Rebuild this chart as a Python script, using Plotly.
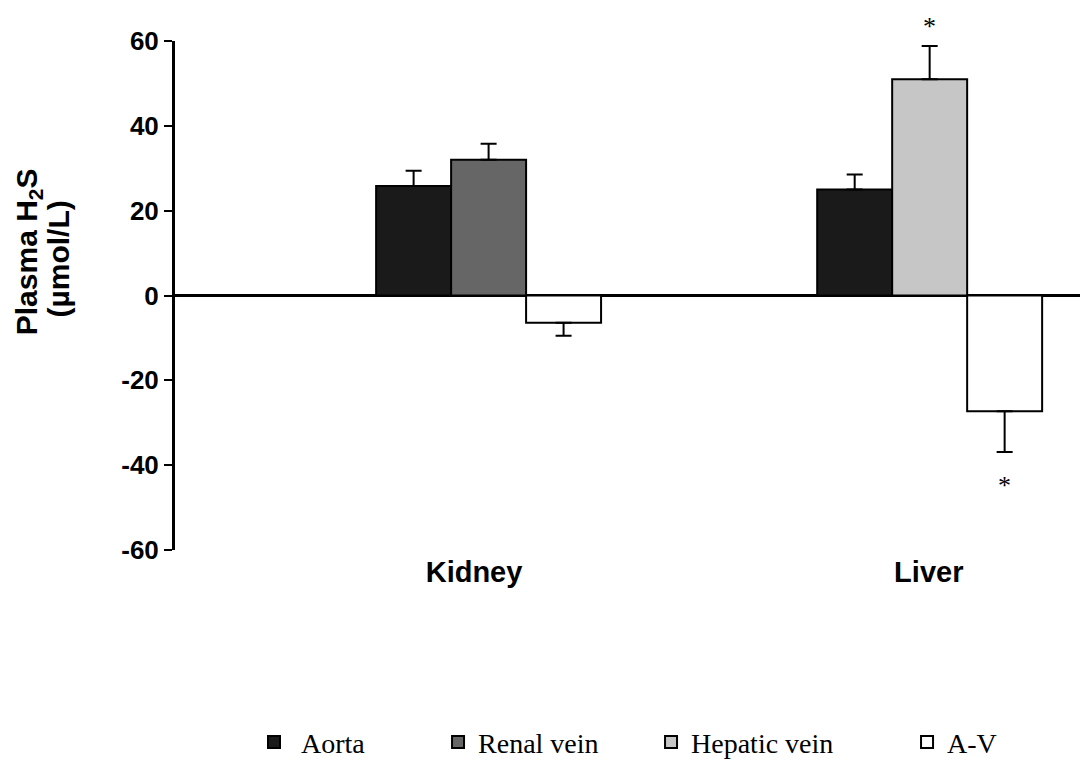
import plotly.graph_objects as go

# ---- data ----
groups = ["Kidney", "Liver"]
group_pos = [0, 1]

aorta = [25.8, 25.0]
aorta_err = [3.6, 3.5]

renal_vein = [32.0]        # Kidney only
renal_vein_err = [3.8]

hepatic_vein = [51.0]      # Liver only
hepatic_vein_err = [7.8]

av = [-6.4, -27.3]
av_err = [3.1, 9.6]

y_ticks = [-60, -40, -20, 0, 20, 40, 60]
y_tick_text = ["-60", "-40", "-20", "0", "20", "40", "60"]

# ---- layout constants ----
BW = 0.170
OFF = [-0.255, -0.085, 0.085]
SANS = "Arial, Liberation Sans, sans-serif"
SERIF = "Liberation Serif, Times New Roman, serif"
LEG_FONT = dict(family=SERIF, size=28, color="black")
LINE = dict(color="black", width=2)

fig = go.Figure()

fig.add_trace(go.Bar(
    name="\u00a0Aorta", x=group_pos, y=aorta, width=BW, offset=OFF[0],
    marker=dict(color="#1a1a1a", line=LINE),
    error_y=dict(type="data", array=aorta_err, arrayminus=[0, 0], color="black", thickness=2, width=8),
    legend="legend",
))
fig.add_trace(go.Bar(
    name="Renal vein", x=[group_pos[0]], y=renal_vein, width=BW, offset=OFF[1],
    marker=dict(color="#666666", line=LINE),
    error_y=dict(type="data", array=renal_vein_err, arrayminus=[0], color="black", thickness=2, width=8),
    legend="legend2",
))
fig.add_trace(go.Bar(
    name="Hepatic vein", x=[group_pos[1]], y=hepatic_vein, width=BW, offset=OFF[1],
    marker=dict(color="#c6c6c6", line=LINE),
    error_y=dict(type="data", array=hepatic_vein_err, arrayminus=[0], color="black", thickness=2, width=8),
    legend="legend3",
))
fig.add_trace(go.Bar(
    name="A-V", x=group_pos, y=av, width=BW, offset=OFF[2],
    marker=dict(color="white", line=LINE),
    error_y=dict(type="data", array=[0, 0], arrayminus=av_err, color="black", thickness=2, width=8),
    legend="legend4",
))

# significance asterisks
fig.add_annotation(x=group_pos[1] + OFF[1] + BW / 2, y=hepatic_vein[0] + hepatic_vein_err[0],
                   text="*", showarrow=False, yanchor="bottom", yshift=3,
                   font=dict(family=SERIF, size=26, color="black"))
fig.add_annotation(x=group_pos[1] + OFF[2] + BW / 2, y=av[1] - av_err[1],
                   text="*", showarrow=False, yanchor="top", yshift=-17,
                   font=dict(family=SERIF, size=26, color="black"))

# y-axis title (two lines placed separately for tight spacing)
fig.add_annotation(xref="paper", yref="paper", x=-0.1610, y=0.585, xanchor="center", yanchor="middle",
                   text="<b>Plasma H<sub>2</sub>S</b>", textangle=-90,
                   showarrow=False, font=dict(family=SANS, size=30, color="black"))
fig.add_annotation(xref="paper", yref="paper", x=-0.1280, y=0.571, xanchor="center", yanchor="middle",
                   text="<b>(µmol/L)</b>", textangle=-90,
                   showarrow=False, font=dict(family=SANS, size=30, color="black"))

def leg(xp):
    return dict(x=xp, y=-0.378, xanchor="left", yanchor="middle", orientation="h",
                font=LEG_FONT, bgcolor="rgba(0,0,0,0)", borderwidth=0)

fig.update_layout(
    width=1088, height=767,
    margin=dict(l=167, r=8, t=33, b=219),
    paper_bgcolor="white", plot_bgcolor="white",
    showlegend=True,
    legend=leg(0.0865), legend2=leg(0.2881), legend3=leg(0.5214), legend4=leg(0.8018),
    xaxis=dict(range=[-0.711, 1.359], tickvals=[-0.033, 0.998], ticktext=groups,
               showgrid=False, zeroline=False, showline=False, ticks="",
               tickfont=dict(family=SANS, size=29, color="black", weight="bold"),
               ticklabelstandoff=2),
    yaxis=dict(range=[-60, 60], tickvals=y_ticks, ticktext=y_tick_text, showgrid=False,
               zeroline=True, zerolinecolor="black", zerolinewidth=3,
               showline=True, linecolor="black", linewidth=3,
               ticks="outside", ticklen=8, tickwidth=2, tickcolor="black",
               tickfont=dict(family=SANS, size=26, color="black", weight="bold"),
               ticklabelstandoff=0),
)

fig.write_html("out.html")
